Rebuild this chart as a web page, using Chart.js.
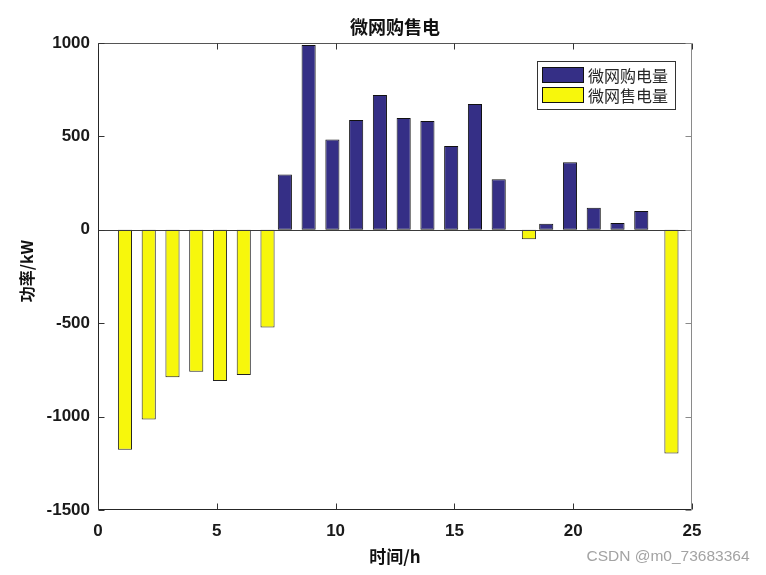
<!DOCTYPE html>
<html>
<head>
<meta charset="utf-8">
<script src="https://cdn.jsdelivr.net/npm/chart.js@4.4.1/dist/chart.umd.min.js"></script>
<style>
html,body{margin:0;padding:0;background:#fff;}
#wrap{width:766px;height:575px;position:relative;}
canvas{display:block;}
</style>
</head>
<body>
<div id="wrap"><canvas id="c" width="766" height="575"></canvas></div>
<script>
// ---- data ----
const hours = [1,2,3,4,5,6,7,8,9,10,11,12,13,14,15,16,17,18,19,20,21,22,23,24];
const buyPower  = [0,0,0,0,0,0,0,296,989,484,588,721,598,582,448,673,270,0,32,361,118,36,100,0];
const sellPower = [-1178,-1016,-790,-760,-809,-777,-523,0,0,0,0,0,0,0,0,0,0,-50,0,0,0,0,0,-1197];
const seriesNames = ['微网购电量','微网售电量'];
const xTicks = [0,5,10,15,20,25];
const yTicks = [-1500,-1000,-500,0,500,1000];
const titleText = '微网购售电';
const xTitle = '时间/h';
const yTitle = '功率/kW';
const watermark = 'CSDN @m0_73683364';

const BLUE = '#352f86';
const YELLOW = '#f7f70c';
const CJK = '"Noto Sans CJK SC", "Noto Sans", sans-serif';
const LAT = '"Liberation Sans", Arial, sans-serif';

const decor = {
  id: 'decor',
  afterDatasetsDraw(chart) {
    const ctx = chart.ctx;
    const a = chart.chartArea;
    const ys = chart.scales.y;
    ctx.save();
    const y0 = Math.round(ys.getPixelForValue(0)) + 0.5;
    ctx.strokeStyle = '#3a3a3a';
    ctx.lineWidth = 1;
    ctx.beginPath(); ctx.moveTo(a.left, y0); ctx.lineTo(a.right, y0); ctx.stroke();
    ctx.restore();
  },
  afterDraw(chart) {
    const ctx = chart.ctx;
    const a = chart.chartArea;
    const xs = chart.scales.x, ys = chart.scales.y;
    ctx.save();
    const L = Math.round(a.left) + 0.5, R = Math.round(a.right) - 0.5;
    const T = Math.round(a.top) + 0.5, B = Math.round(a.bottom) - 0.5;
    ctx.lineWidth = 1;
    ctx.strokeStyle = '#262626';
    ctx.beginPath(); ctx.moveTo(L, T); ctx.lineTo(L, B); ctx.lineTo(R, B); ctx.stroke();
    ctx.strokeStyle = '#555555';
    ctx.beginPath(); ctx.moveTo(L, T); ctx.lineTo(R, T); ctx.stroke();
    ctx.strokeStyle = '#8a8a8a';
    ctx.beginPath(); ctx.moveTo(R, T); ctx.lineTo(R, B); ctx.stroke();
    const tl = 6;
    ctx.strokeStyle = '#333333';
    xTicks.forEach(v => {
      const px = Math.round(xs.getPixelForValue(v)) + 0.5;
      ctx.beginPath(); ctx.moveTo(px, B); ctx.lineTo(px, B - tl); ctx.stroke();
      ctx.beginPath(); ctx.moveTo(px, T); ctx.lineTo(px, T + tl); ctx.stroke();
    });
    yTicks.forEach(v => {
      const py = Math.round(ys.getPixelForValue(v)) + 0.5;
      ctx.strokeStyle = '#333333';
      ctx.beginPath(); ctx.moveTo(L, py); ctx.lineTo(L + tl, py); ctx.stroke();
      ctx.strokeStyle = '#8a8a8a';
      ctx.beginPath(); ctx.moveTo(R, py); ctx.lineTo(R - tl, py); ctx.stroke();
    });
    ctx.fillStyle = '#111';
    ctx.textAlign = 'center';
    ctx.textBaseline = 'middle';
    ctx.font = 'bold 18px ' + CJK;
    ctx.fillText(titleText, (a.left + a.right) / 2, 27);
    ctx.font = 'bold 17px ' + CJK;
    ctx.fillText(xTitle, (a.left + a.right) / 2, 557);
    ctx.save();
    ctx.translate(27, 271);
    ctx.rotate(-Math.PI / 2);
    ctx.font = 'bold 16px ' + CJK;
    ctx.fillText(yTitle, 0, 0);
    ctx.restore();
    const lx = 537.5, ly = 61.5, lw = 138, lh = 48;
    ctx.fillStyle = '#fff';
    ctx.fillRect(lx, ly, lw, lh);
    ctx.strokeStyle = '#333';
    ctx.strokeRect(lx, ly, lw, lh);
    ctx.font = '16px ' + CJK;
    ctx.textAlign = 'left';
    chart.data.datasets.forEach((ds, i) => {
      const sy = 67.5 + i * 20;
      ctx.fillStyle = ds.backgroundColor;
      ctx.fillRect(542.5, sy, 41, 15);
      ctx.strokeStyle = '#111';
      ctx.strokeRect(542.5, sy, 41, 15);
      ctx.fillStyle = '#262626';
      ctx.fillText(ds.label, 588, sy + 8);
    });
    ctx.font = '15.5px ' + LAT;
    ctx.fillStyle = '#a3a3a3';
    ctx.textAlign = 'center';
    ctx.fillText(watermark, 668, 557);
    ctx.restore();
  }
};

new Chart(document.getElementById('c'), {
  type: 'bar',
  data: {
    datasets: [
      { label: seriesNames[0], data: hours.map((h, i) => ({x: h, y: buyPower[i]})),
        backgroundColor: BLUE, borderColor: '#111', borderWidth: 1, borderSkipped: false },
      { label: seriesNames[1], data: hours.map((h, i) => ({x: h, y: sellPower[i]})),
        backgroundColor: YELLOW, borderColor: '#222', borderWidth: 1, borderSkipped: false }
    ]
  },
  options: {
    responsive: false,
    animation: false,
    devicePixelRatio: 1,
    categoryPercentage: 0.54,
    barPercentage: 2.2,
    layout: { padding: { top: 43, right: 74, left: 0, bottom: 0 } },
    plugins: { legend: { display: false }, title: { display: false }, tooltip: { enabled: false } },
    scales: {
      x: {
        type: 'linear', min: 0, max: 25, offset: false,
        afterBuildTicks: s => { s.ticks = xTicks.map(v => ({value: v})); },
        afterFit: s => { s.height = 65; },
        grid: { display: false, drawTicks: false },
        border: { display: false },
        ticks: { padding: 11, color: '#1a1a1a', font: { family: LAT, size: 17, weight: 'bold' }, maxRotation: 0,
                 callback: v => String(v) }
      },
      y: {
        type: 'linear', min: -1500, max: 1000,
        afterBuildTicks: s => { s.ticks = yTicks.map(v => ({value: v})); },
        afterFit: s => { s.width = 98; },
        grid: { display: false, drawTicks: false },
        border: { display: false },
        ticks: { padding: 8, color: '#1a1a1a', font: { family: LAT, size: 17, weight: 'bold' },
                 callback: v => String(v) }
      }
    }
  },
  plugins: [decor]
});
</script>
</body>
</html>
